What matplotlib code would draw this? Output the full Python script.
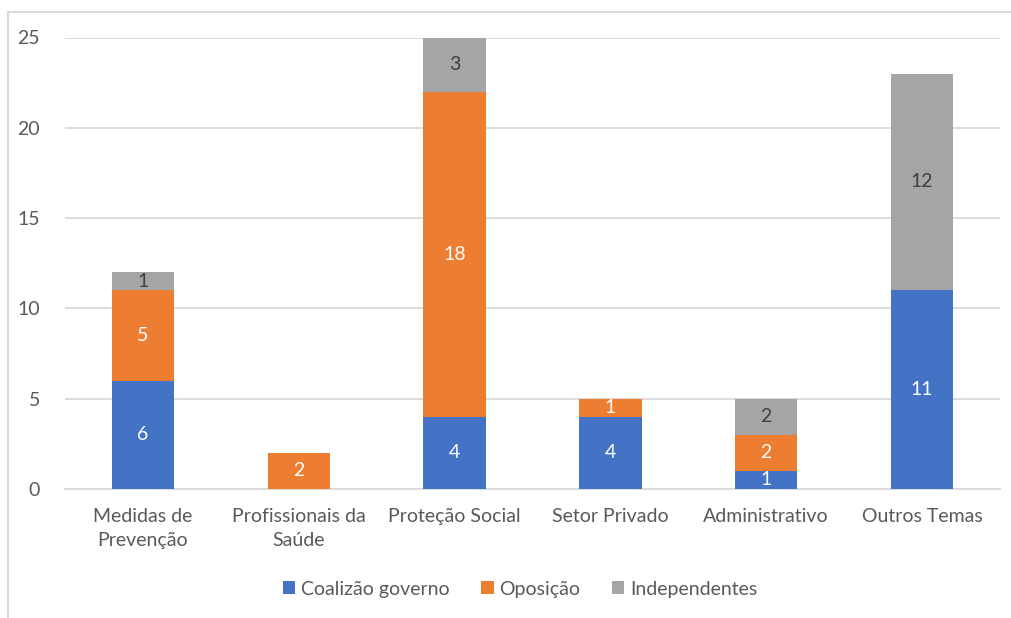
import matplotlib
matplotlib.use("Agg")
import matplotlib.pyplot as plt
from matplotlib.patches import Rectangle
import numpy as np

categories = ["Medidas de\nPrevenção", "Profissionais da\nSaúde", "Proteção Social",
              "Setor Privado", "Administrativo", "Outros Temas"]
series_names = ["Coalizão governo", "Oposição", "Independentes"]
coalizao = [6, 0, 4, 4, 1, 11]
oposicao = [5, 2, 18, 1, 2, 0]
independentes = [1, 0, 3, 0, 2, 12]
yticks = [0, 5, 10, 15, 20, 25]

colors = ["#4472C4", "#ED7D31", "#A5A5A5"]
label_colors = ["white", "white", "#404040"]
text_color = "#595959"

plt.rcParams['font.family'] = ['Lato', 'DejaVu Sans']

W, H = 1011, 618
fig = plt.figure(figsize=(W / 100, H / 100), dpi=100)
ax = fig.add_axes([65 / W, 1 - 489 / H, (1000 - 65) / W, (489 - 37.5) / H])

x = np.arange(len(categories))
bottom = np.zeros(len(categories))
for vals, name, col, lc in zip([coalizao, oposicao, independentes], series_names, colors, label_colors):
    vals = np.array(vals, dtype=float)
    bars = ax.bar(x, vals, width=0.4, bottom=bottom, color=col, label=name, zorder=3)
    for b, v, bt in zip(bars, vals, bottom):
        if v > 0:
            ax.text(b.get_x() + b.get_width() / 2, bt + v / 2, f"{int(v)}",
                    ha="center", va="center", color=lc, fontsize=14, zorder=4)
    bottom += vals

ax.set_xlim(-0.5, len(categories) - 0.5)
ax.set_ylim(0, 25)
ax.set_yticks(yticks)
ax.yaxis.grid(True, color="#D9D9D9", linewidth=1.3, zorder=0)
ax.set_axisbelow(True)
for s in ["top", "right", "left"]:
    ax.spines[s].set_visible(False)
ax.spines["bottom"].set_color("#D9D9D9")
ax.spines["bottom"].set_linewidth(1.3)
ax.tick_params(axis="both", length=0, colors=text_color, labelsize=14)
ax.tick_params(axis="y", pad=18)
ax.tick_params(axis="x", pad=14)
ax.set_xticks(x)
ax.set_xticklabels(categories, color=text_color, linespacing=1.45)

leg = fig.legend(loc="center", bbox_to_anchor=(520 / W, 1 - 589 / H), ncol=3, frameon=False,
                 fontsize=14, handlelength=0.65, handleheight=0.65, handletextpad=0.3,
                 columnspacing=1.6)
for t in leg.get_texts():
    t.set_color(text_color)

fig.patches.append(Rectangle((8 / W, -0.1), 1.2, 1 - 12 / H + 0.1, transform=fig.transFigure,
                             fill=False, edgecolor="#D9D9D9", linewidth=1.5))

fig.savefig("out.png", dpi=100)
